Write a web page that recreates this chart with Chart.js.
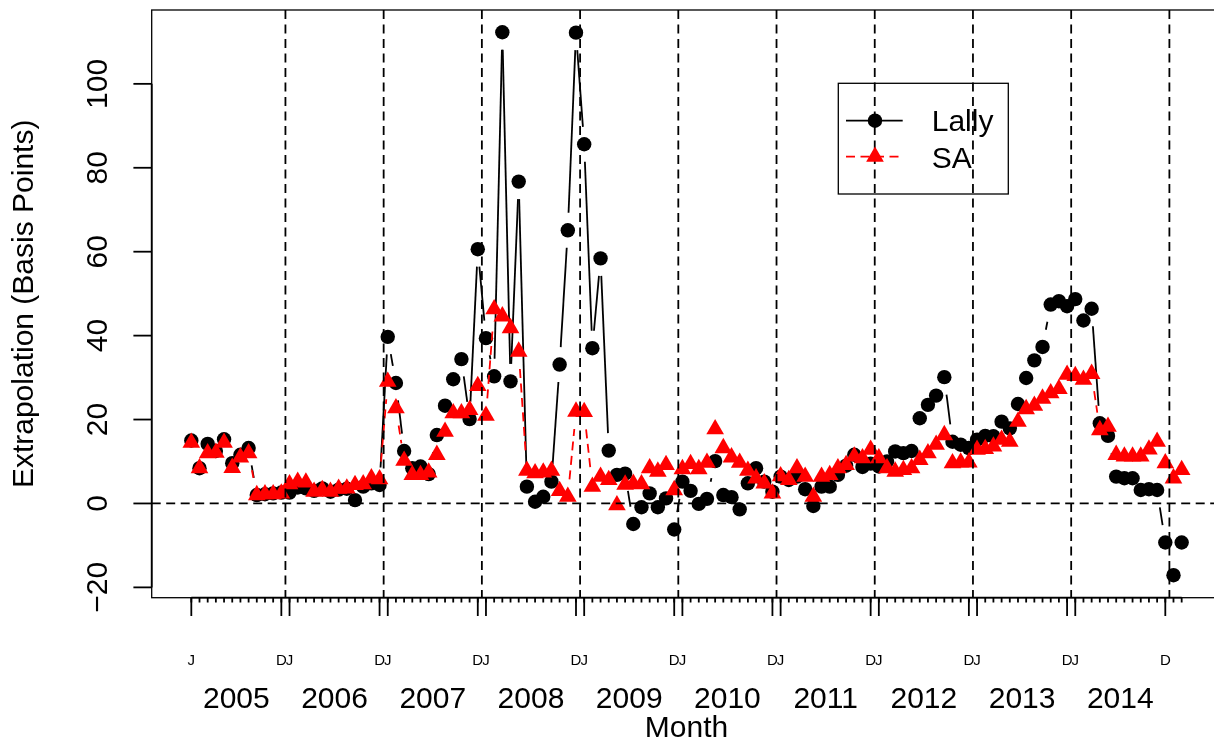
<!DOCTYPE html>
<html>
<head>
<meta charset="utf-8">
<script src="https://cdn.jsdelivr.net/npm/chart.js@4"></script>
<style>
  html, body { margin:0; padding:0; background:#fff; overflow:hidden; }
  #c { display:block; }
</style>
</head>
<body>
<canvas id="c" width="1214" height="740" style="width:1214px;height:740px"></canvas>
<script>
// monthly series, Jan 2005 .. Feb 2015 (basis points)
const lally = [
  15.0, 8.4, 14.2, 12.5, 15.3, 9.6, 11.6, 13.2, 2.0, 2.2, 2.4, 2.6,
  2.6, 3.8, 3.6, 3.0, 3.6, 2.8, 3.3, 3.5, 0.8, 4.0, 4.8, 4.4,
  39.7, 28.7, 12.5, 8.4, 8.8, 7.0, 16.3, 23.3, 29.6, 34.4, 20.1, 60.6,
  39.4, 30.3, 112.3, 29.1, 76.7, 4.0, 0.4, 1.6, 5.2, 33.1, 65.1, 112.2,
  85.6, 37.0, 58.4, 12.6, 6.8, 7.1, -4.9, -0.9, 2.4, -0.9, 1.2, -6.2,
  5.2, 3.0, -0.1, 1.1, 10.1, 2.0, 1.5, -1.4, 4.8, 8.4, 5.2, 2.8,
  6.4, 5.6, 6.4, 3.4, -0.6, 4.0, 4.0, 6.8, 9.0, 11.6, 8.7, 9.5,
  8.8, 10.0, 12.4, 12.0, 12.5, 20.3, 23.5, 25.7, 30.1, 14.7, 14.0, 13.2,
  15.2, 16.1, 16.0, 19.5, 17.9, 23.7, 29.9, 34.1, 37.3, 47.4, 48.2, 47.0,
  48.7, 43.6, 46.4, 19.1, 16.1, 6.4, 6.0, 6.0, 3.2, 3.4, 3.2, -9.3,
  -17.1, -9.3
];
const sa = [
  14.5, 8.4, 12.0, 12.1, 14.5, 8.5, 11.0, 12.0, 2.0, 2.2, 2.2, 2.4,
  4.6, 5.2, 5.0, 2.8, 3.2, 2.8, 3.5, 3.6, 4.4, 4.6, 6.0, 5.8,
  29.0, 22.7, 10.2, 6.8, 6.8, 7.4, 11.6, 17.1, 21.5, 21.5, 22.3, 28.0,
  20.9, 46.3, 44.6, 41.8, 36.2, 7.8, 7.2, 7.4, 7.8, 3.0, 1.6, 21.9,
  21.8, 4.0, 6.4, 5.6, -0.4, 4.5, 4.7, 4.6, 8.4, 7.6, 9.2, 3.2,
  8.2, 9.4, 8.2, 9.7, 17.7, 13.2, 11.0, 9.7, 7.8, 6.0, 4.8, 2.4,
  6.5, 5.6, 8.4, 6.4, 1.6, 6.4, 6.8, 8.4, 9.2, 11.2, 10.8, 12.8,
  10.8, 8.4, 7.6, 8.0, 8.4, 10.4, 12.0, 14.0, 16.3, 9.6, 9.8, 9.8,
  12.8, 13.0, 13.6, 15.2, 14.7, 19.5, 22.5, 23.3, 25.0, 26.3, 27.3, 30.7,
  30.4, 29.5, 30.9, 17.5, 18.3, 11.6, 11.2, 11.2, 11.2, 12.9, 14.7, 9.6,
  6.0, 8.0
];
const years = [2005, 2006, 2007, 2008, 2009, 2010, 2011, 2012, 2013, 2014];
const yTicks = [-20, 0, 20, 40, 60, 80, 100];

const FONT = "'Liberation Sans', Arial, Helvetica, sans-serif";
const GAP = 17.5;          // R type="b" gap around each point (px)
const DASH = [9, 5.5];     // lty=2
const X_END = 125.84;      // R's full x range ends just past the picture

// R-style "b" lines: gap at both ends, nothing if the segment is too short
function gapDash(c, dash){
  const L = Math.hypot(c.p1.x - c.p0.x, c.p1.y - c.p0.y);
  if (L <= 2 * GAP) return [];
  const inner = L - 2 * GAP;
  const arr = [0, GAP];
  if (!dash) { arr.push(inner, GAP + 2000); return arr; }
  let used = 0, i = 0;
  while (used < inner - 0.01) {
    const len = Math.min(dash[i % dash.length], inner - used);
    arr.push(len); used += len; i++;
  }
  if (arr.length % 2 === 1) arr.push(GAP + 2000); else arr.push(0, GAP + 2000);
  return arr;
}
function gapSegment(color, dash){
  return {
    borderColor: c => Math.hypot(c.p1.x - c.p0.x, c.p1.y - c.p0.y) > 2 * GAP ? color : 'rgba(0,0,0,0)',
    borderDash: c => gapDash(c, dash)
  };
}

const rPlot = {
  id: 'rPlot',
  afterDatasetsDraw(chart){
    const { ctx, chartArea: a, scales: { x, y } } = chart;
    const boxRight = x.getPixelForValue(X_END);
    ctx.save();
    ctx.strokeStyle = '#000';
    ctx.fillStyle = '#000';
    ctx.lineCap = 'butt';
    const seg = (x0, y0, x1, y1) => { ctx.beginPath(); ctx.moveTo(x0, y0); ctx.lineTo(x1, y1); ctx.stroke(); };

    // abline(v = year breaks), abline(h = 0)
    ctx.lineWidth = 1.8;
    ctx.setLineDash(DASH);
    years.slice(1).concat([years[years.length - 1] + 1]).forEach(yr => {
      const px = x.getPixelForValue(12 * (yr - years[0]) - 0.5);
      seg(px, a.top, px, a.bottom);
    });
    const p0 = y.getPixelForValue(0);
    seg(a.left, p0, boxRight, p0);
    ctx.setLineDash([]);

    // box
    ctx.lineWidth = 1.3;
    ctx.strokeRect(a.left, a.top, boxRight - a.left, a.bottom - a.top);

    // y axis
    ctx.lineWidth = 1.8;
    seg(a.left, y.getPixelForValue(yTicks[0]), a.left, y.getPixelForValue(yTicks[yTicks.length - 1]));
    ctx.font = '30px ' + FONT;
    ctx.textAlign = 'center';
    ctx.textBaseline = 'alphabetic';
    yTicks.forEach(v => {
      const py = y.getPixelForValue(v);
      seg(a.left, py, a.left - 18.3, py);
      ctx.save();
      ctx.translate(107.3, py);
      ctx.rotate(-Math.PI / 2);
      ctx.fillText(v < 0 ? '\u2212' + Math.abs(v) : String(v), 0, 0);
      ctx.restore();
    });
    ctx.save();
    ctx.translate(33.3, (a.top + a.bottom) / 2);
    ctx.rotate(-Math.PI / 2);
    ctx.fillText('Extrapolation (Basis Points)', 0, 0);
    ctx.restore();

    // x axis: monthly ticks, long ticks + labels at Dec / Jan
    const n = lally.length;
    seg(x.getPixelForValue(0), a.bottom, x.getPixelForValue(n - 1), a.bottom);
    for (let k = 0; k < n; k++) {
      const px = x.getPixelForValue(k);
      seg(px, a.bottom, px, a.bottom + 4.8);
    }
    ctx.font = '15px ' + FONT;
    years.forEach((yr, i) => {
      [[12 * i, 'J'], [12 * i + 11, 'D']].forEach(([k, lab]) => {
        const px = x.getPixelForValue(k);
        seg(px, a.bottom, px, a.bottom + 18.3);
        ctx.fillText(lab, px, 664.5);
      });
    });
    ctx.font = '30px ' + FONT;
    years.forEach((yr, i) => {
      ctx.fillText(String(yr), x.getPixelForValue(12 * i + 5.5), 708);
    });
    ctx.fillText('Month', (a.left + boxRight) / 2, 737);

    // legend
    ctx.lineWidth = 1.3;
    ctx.strokeRect(838.3, 83.3, 170, 110.7);
    ctx.lineWidth = 1.8;
    seg(846, 120.7, 902.7, 120.7);
    ctx.beginPath(); ctx.arc(875, 120.7, 7.2, 0, Math.PI * 2); ctx.fill();
    ctx.strokeStyle = '#ff0000'; ctx.fillStyle = '#ff0000';
    ctx.setLineDash(DASH);
    seg(846, 156.7, 902.7, 156.7);
    ctx.setLineDash([]);
    const r = 10.2, tx = 875, ty = 156.7;
    ctx.beginPath();
    ctx.moveTo(tx, ty - r);
    ctx.lineTo(tx + r * 0.866, ty + r / 2);
    ctx.lineTo(tx - r * 0.866, ty + r / 2);
    ctx.closePath(); ctx.fill();
    ctx.fillStyle = '#000';
    ctx.textAlign = 'left';
    ctx.fillText('Lally', 931.7, 131);
    ctx.fillText('SA', 931.7, 167.5);
    ctx.restore();
  }
};

new Chart(document.getElementById('c'), {
  type: 'line',
  data: {
    datasets: [
      {
        label: 'SA',
        data: sa.map((v, i) => ({ x: i, y: v })),
        order: 0,
        borderColor: '#ff0000',
        borderWidth: 1.8,
        borderCapStyle: 'butt',
        pointStyle: 'triangle',
        pointRadius: 10.2,
        pointBackgroundColor: '#ff0000',
        pointBorderWidth: 0,
        tension: 0,
        segment: gapSegment('#ff0000', DASH)
      },
      {
        label: 'Lally',
        data: lally.map((v, i) => ({ x: i, y: v })),
        order: 1,
        borderColor: '#000',
        borderWidth: 1.8,
        borderCapStyle: 'butt',
        pointStyle: 'circle',
        pointRadius: 7.2,
        pointBackgroundColor: '#000',
        pointBorderWidth: 0,
        tension: 0,
        segment: gapSegment('#000', null)
      }
    ]
  },
  options: {
    responsive: false,
    animation: false,
    events: [],
    // no auto padding for the big markers: the plot area is placed by hand
    layout: { autoPadding: false, padding: { left: 151.7, top: 10, right: 0, bottom: 142.3 } },
    scales: {
      // picture is cut at x = 1214, i.e. at month 124.95 of the -4.84..125.84 range
      x: { type: 'linear', min: -4.84, max: 124.95, display: false },
      y: { type: 'linear', min: -22.46, max: 117.6, display: false }
    },
    plugins: { legend: { display: false }, tooltip: { enabled: false } }
  },
  plugins: [rPlot]
});
</script>
</body>
</html>
